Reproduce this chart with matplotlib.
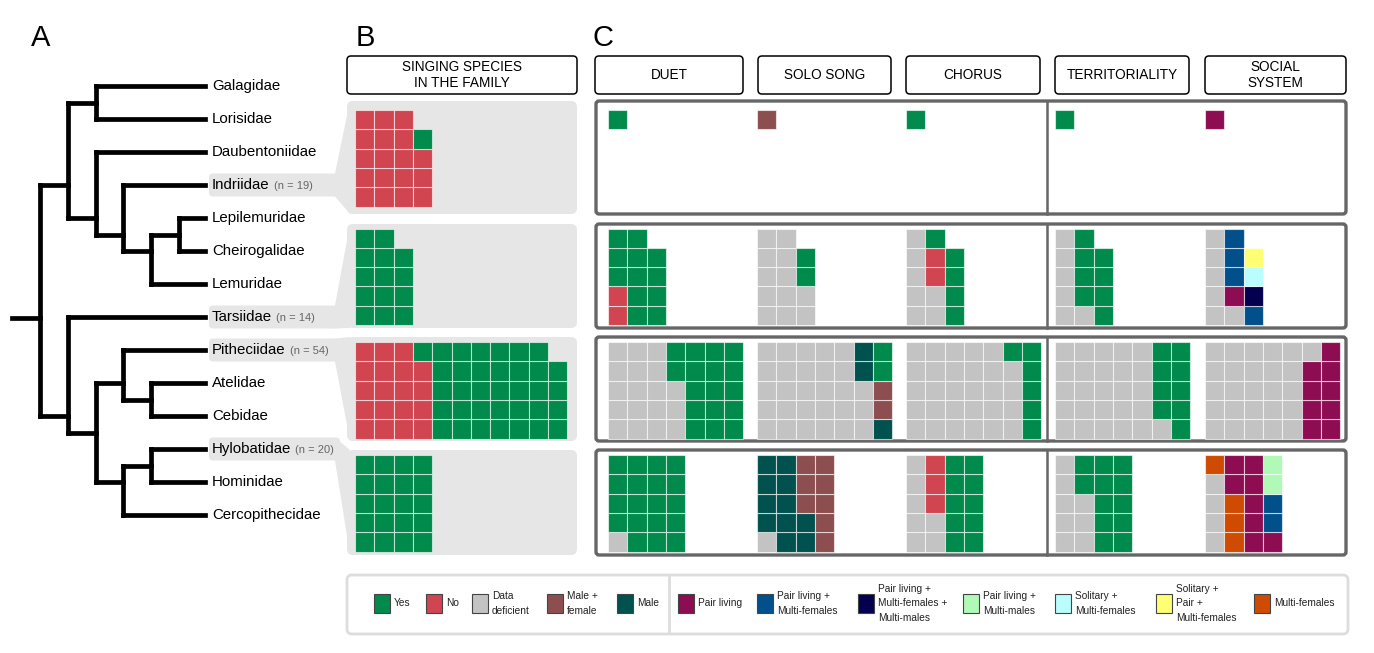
import matplotlib
matplotlib.use("Agg")
import matplotlib.pyplot as plt
import numpy as np
from matplotlib.patches import FancyBboxPatch, Polygon, Rectangle

plt.rcParams['font.family'] = ['Liberation Sans', 'DejaVu Sans']

# ------------------------------------------------------------------ data
leaf_order = ["Galagidae", "Lorisidae", "Daubentoniidae", "Indriidae",
              "Lepilemuridae", "Cheirogalidae", "Lemuridae", "Tarsiidae",
              "Pitheciidae", "Atelidae", "Cebidae", "Hylobatidae",
              "Hominidae", "Cercopithecidae"]

tree = (
    (("Galagidae", "Lorisidae"),
     ("Daubentoniidae",
      ("Indriidae", (("Lepilemuridae", "Cheirogalidae"), "Lemuridae")))),
    ("Tarsiidae",
     (("Pitheciidae", ("Atelidae", "Cebidae")),
      (("Hylobatidae", "Hominidae"), "Cercopithecidae"))),
)

singing_families = ["Indriidae", "Tarsiidae", "Pitheciidae", "Hylobatidae"]
family_n = [19, 14, 54, 20]

# waffle contents, as runs of (category, count), filled column by column
singing = [[("N", 18), ("Y", 1)],
           [("Y", 14)],
           [("N", 19), ("Y", 35)],
           [("Y", 20)]]
duet = [[("Y", 1)],
        [("N", 2), ("Y", 12)],
        [("DD", 18), ("Y", 17)],
        [("DD", 1), ("Y", 19)]]
solo_song = [[("MF", 1)],
             [("DD", 12), ("Y", 2)],
             [("DD", 28), ("M", 3), ("MF", 2), ("Y", 2)],
             [("DD", 1), ("M", 11), ("MF", 8)]]
chorus = [[("Y", 1)],
          [("DD", 7), ("N", 2), ("Y", 5)],
          [("DD", 29), ("Y", 6)],
          [("DD", 7), ("N", 3), ("Y", 10)]]
territoriality = [[("Y", 1)],
                  [("DD", 6), ("Y", 8)],
                  [("DD", 26), ("Y", 9)],
                  [("DD", 8), ("Y", 12)]]
social_system = [[("PL", 1)],
                 [("DD", 6), ("PL", 1), ("PL_MF", 4), ("PL_MF_MM", 1),
                  ("S_MF", 1), ("S_P_MF", 1)],
                 [("DD", 25), ("PL", 4), ("DD", 1), ("PL", 5)],
                 [("DD", 4), ("MFEM", 4), ("PL", 8), ("PL_MF", 2), ("PL_MM", 2)]]

traits = [duet, solo_song, chorus, territoriality, social_system]

colors = {
    "Y": "#008a4b", "N": "#d14551", "DD": "#c3c3c3", "MF": "#8d4e50",
    "M": "#01514f", "PL": "#8d0c52", "PL_MF": "#02508b",
    "PL_MF_MM": "#04004f", "PL_MM": "#b0f9b6", "S_MF": "#b9fdff",
    "S_P_MF": "#ffff73", "MFEM": "#cf4b02",
}
legend_left = [("Y", "Yes"), ("N", "No"), ("DD", "Data\ndeficient"),
               ("MF", "Male +\nfemale"), ("M", "Male")]
legend_right = [("PL", "Pair living"),
                ("PL_MF", "Pair living +\nMulti-females"),
                ("PL_MF_MM", "Pair living +\nMulti-females +\nMulti-males"),
                ("PL_MM", "Pair living +\nMulti-males"),
                ("S_MF", "Solitary +\nMulti-females"),
                ("S_P_MF", "Solitary +\nPair +\nMulti-females"),
                ("MFEM", "Multi-females")]

# ------------------------------------------------------------------ layout
W, H = 1374, 653
LEAF_Y0, LEAF_DY = 86, 33
NODE_X0, NODE_DX, LEAF_X = 40, 27.8, 205
ROOT_STUB_Y = 318          # root edge is drawn level with Tarsiidae
ROW_TOP = [110, 228.5, 342, 455]
CELL = 19.3
B_X0 = 355
C_X0 = [608, 757, 906, 1055, 1205]
ROW_BOX = [(101, 214), (224, 328), (337, 441), (450, 555)]
LEG_SWATCH_X = [374, 426, 472, 547, 617, 678, 757, 858, 963, 1055, 1156, 1254]

fig = plt.figure(figsize=(W / 100, H / 100), dpi=100)
ax = fig.add_axes([0, 0, 1, 1])
ax.set_xlim(0, W)
ax.set_ylim(H, 0)
ax.axis("off")


def rbox(x0, y0, x1, y1, r=4, **kw):
    p = FancyBboxPatch((x0, y0), x1 - x0, y1 - y0,
                       boxstyle=f"round,pad=0,rounding_size={r}", **kw)
    ax.add_patch(p)
    return p


def waffle(runs, x0, y0, nrows=5):
    cats = [c for c, k in runs for _ in range(k)]
    nrows = min(nrows, len(cats))
    for i, c in enumerate(cats):
        col, r = divmod(i, nrows)
        row = nrows - 1 - r
        ax.add_patch(Rectangle((x0 + col * CELL, y0 + row * CELL), CELL, CELL,
                               facecolor=colors[c], edgecolor=(1, 1, 1, 0.6),
                               lw=0.8, zorder=3))


# ---- A: tree
def leaf_y(name):
    return LEAF_Y0 + LEAF_DY * leaf_order.index(name)


TREE_KW = dict(color="black", lw=3.4, solid_capstyle="projecting", zorder=2)


def draw_clade(node, depth):
    if isinstance(node, str):
        y = leaf_y(node)
        return y, [y]
    x = NODE_X0 + NODE_DX * depth
    kids = [draw_clade(c, depth + 1) for c in node]
    ys = [k[0] for k in kids]
    ax.plot([x, x], [min(ys), max(ys)], **TREE_KW)
    for c, (cy, _) in zip(node, kids):
        cx = LEAF_X if isinstance(c, str) else NODE_X0 + NODE_DX * (depth + 1)
        ax.plot([x, cx], [cy, cy], **TREE_KW)
    leaves = sum((k[1] for k in kids), [])
    return float(np.mean(leaves)), leaves


draw_clade(tree, 0)
ax.plot([12, NODE_X0], [ROOT_STUB_Y, ROOT_STUB_Y], **TREE_KW)

fig.canvas.draw()
renderer = fig.canvas.get_renderer()
inv = ax.transData.inverted()
for name in leaf_order:
    y = leaf_y(name)
    t = ax.text(212, y, name, fontsize=10.8, va="center", ha="left", zorder=4)
    if name in singing_families:
        n = family_n[singing_families.index(name)]
        bb = t.get_window_extent(renderer)
        xe = inv.transform((bb.x1, bb.y0))[0]
        ax.text(xe + 4, y + 1, f"(n = {n})", fontsize=8, color="#666666",
                va="center", ha="left", zorder=4)

# ---- B: singing species per family
for k, name in enumerate(singing_families):
    ly = leaf_y(name)
    bt, bb_ = ROW_BOX[k]
    rbox(209, ly - 11.5, 340, ly + 11.5, r=4, facecolor="#e6e6e6",
         edgecolor="none", zorder=1)
    ax.add_patch(Polygon([(335, ly - 11.5), (350, bt), (350, bb_), (335, ly + 11.5)],
                         closed=True, facecolor="#e6e6e6", edgecolor="none", zorder=1))
    rbox(347, bt, 577, bb_, r=6, facecolor="#e6e6e6", edgecolor="none", zorder=1)
    waffle(singing[k], B_X0, ROW_TOP[k])

# ---- C: behaviour panels
for k in range(4):
    bt, bb_ = ROW_BOX[k]
    rbox(596, bt, 1346, bb_, r=3, facecolor="white", edgecolor="#666666",
         lw=2.4, zorder=1)
    ax.plot([1047, 1047], [bt, bb_], color="#666666", lw=1.8, zorder=1)
    for j, runs in enumerate(traits):
        waffle(runs[k], C_X0[j], ROW_TOP[k])

# ---- headers
headers = [("SINGING SPECIES\nIN THE FAMILY", 347, 577), ("DUET", 595, 743),
           ("SOLO SONG", 758, 891), ("CHORUS", 906, 1040),
           ("TERRITORIALITY", 1055, 1189), ("SOCIAL\nSYSTEM", 1205, 1346)]
for label, x0, x1 in headers:
    rbox(x0, 56, x1, 94, r=4, facecolor="white", edgecolor="black", lw=1.1)
    ax.text((x0 + x1) / 2, 75, label, fontsize=9.8, ha="center", va="center",
            linespacing=1.15)

for letter, x in [("A", 31), ("B", 356), ("C", 593)]:
    ax.text(x, 38, letter, fontsize=21, ha="left", va="center")

# ---- legend
rbox(347, 575, 1348, 634, r=5, facecolor="white", edgecolor="#dddddd", lw=2)
ax.plot([669, 669], [577, 632], color="#dddddd", lw=2)
for (code, label), sx in zip(legend_left + legend_right, LEG_SWATCH_X):
    ax.add_patch(Rectangle((sx, 594), 16, 19, facecolor=colors[code],
                           edgecolor="#444444", lw=0.8))
    ax.text(sx + 20, 603.5, label, fontsize=7.3, ha="left", va="center",
            linespacing=1.6, color="#222222")

fig.savefig("out.png", dpi=100)
